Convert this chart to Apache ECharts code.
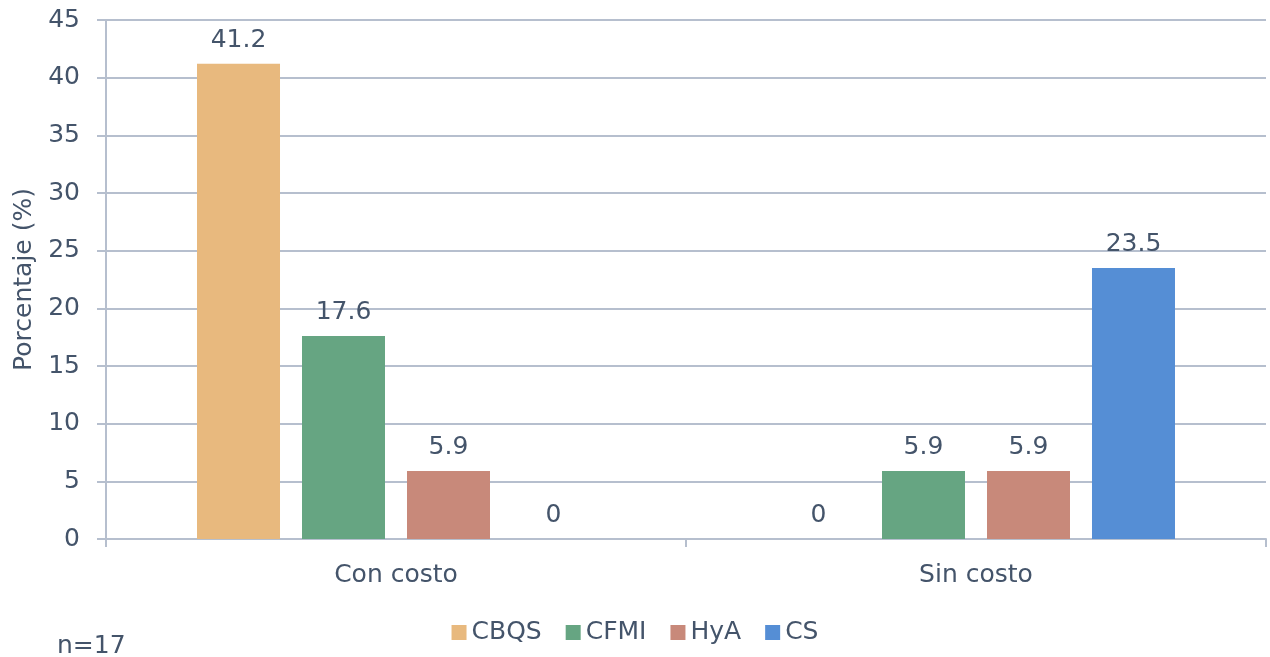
<!DOCTYPE html>
<html><head><meta charset="utf-8">
<script src="https://cdn.jsdelivr.net/npm/echarts@6/dist/echarts.min.js"></script>
<style>html,body{margin:0;padding:0;background:#fff}#c{width:1270px;height:657px}</style>
</head><body><div id="c"></div>
<script>
const categories = ['Con costo', 'Sin costo'];
const seriesNames = ['CBQS', 'CFMI', 'HyA', 'CS'];
const CBQS = [41.2, 0];
const CFMI = [17.6, 5.9];
const HyA = [5.9, 5.9];
const CS = [0, 23.5];
const yTicks = [0, 5, 10, 15, 20, 25, 30, 35, 40, 45];
const colors = ['#e8b97e', '#66a582', '#c8897a', '#558ed5'];
const values = [CBQS, CFMI, HyA, CS];
const txt = '#44546a';
const font = 'DejaVu Sans';
const fs = 25;
const chart = echarts.init(document.getElementById('c'));
chart.setOption({
  animation: false,
  textStyle: {fontFamily: font, color: txt},
  grid: {left: 106, right: 4, top: 20, bottom: 118, containLabel: false},
  legend: {
    top: 615, left: 'center', itemWidth: 15, itemHeight: 15, itemGap: 24,
    icon: 'rect',
    textStyle: {fontFamily: font, fontSize: fs, color: txt},
    data: seriesNames
  },
  graphic: [{type: 'text', left: 57, top: 634, style: {text: 'n=17', fontFamily: font, fontSize: fs, fill: txt}}],
  xAxis: {
    type: 'category', data: categories,
    axisLine: {lineStyle: {color: '#b6bfce', width: 2}},
    axisTick: {show: true, length: 8, lineStyle: {color: '#b6bfce', width: 2}},
    axisLabel: {fontFamily: font, fontSize: fs, color: txt, margin: 24}
  },
  yAxis: {
    type: 'value', min: yTicks[0], max: yTicks[yTicks.length - 1], interval: 5,
    name: 'Porcentaje (%)', nameLocation: 'middle', nameGap: 69,
    nameTextStyle: {fontFamily: font, fontSize: fs, color: txt},
    axisLine: {show: true, lineStyle: {color: '#b6bfce', width: 2}},
    axisTick: {show: true, length: 9, lineStyle: {color: '#b6bfce', width: 2}},
    splitLine: {lineStyle: {color: '#b6bfce', width: 2}},
    axisLabel: {fontFamily: font, fontSize: fs, color: txt, margin: 26}
  },
  series: seriesNames.map((n, i) => ({
    name: n, type: 'bar', data: values[i],
    barWidth: 83, barGap: '26.5%',
    itemStyle: {color: colors[i]},
    label: {show: true, position: 'top', distance: 11, fontFamily: font, fontSize: fs, color: txt}
  }))
});
</script></body></html>
